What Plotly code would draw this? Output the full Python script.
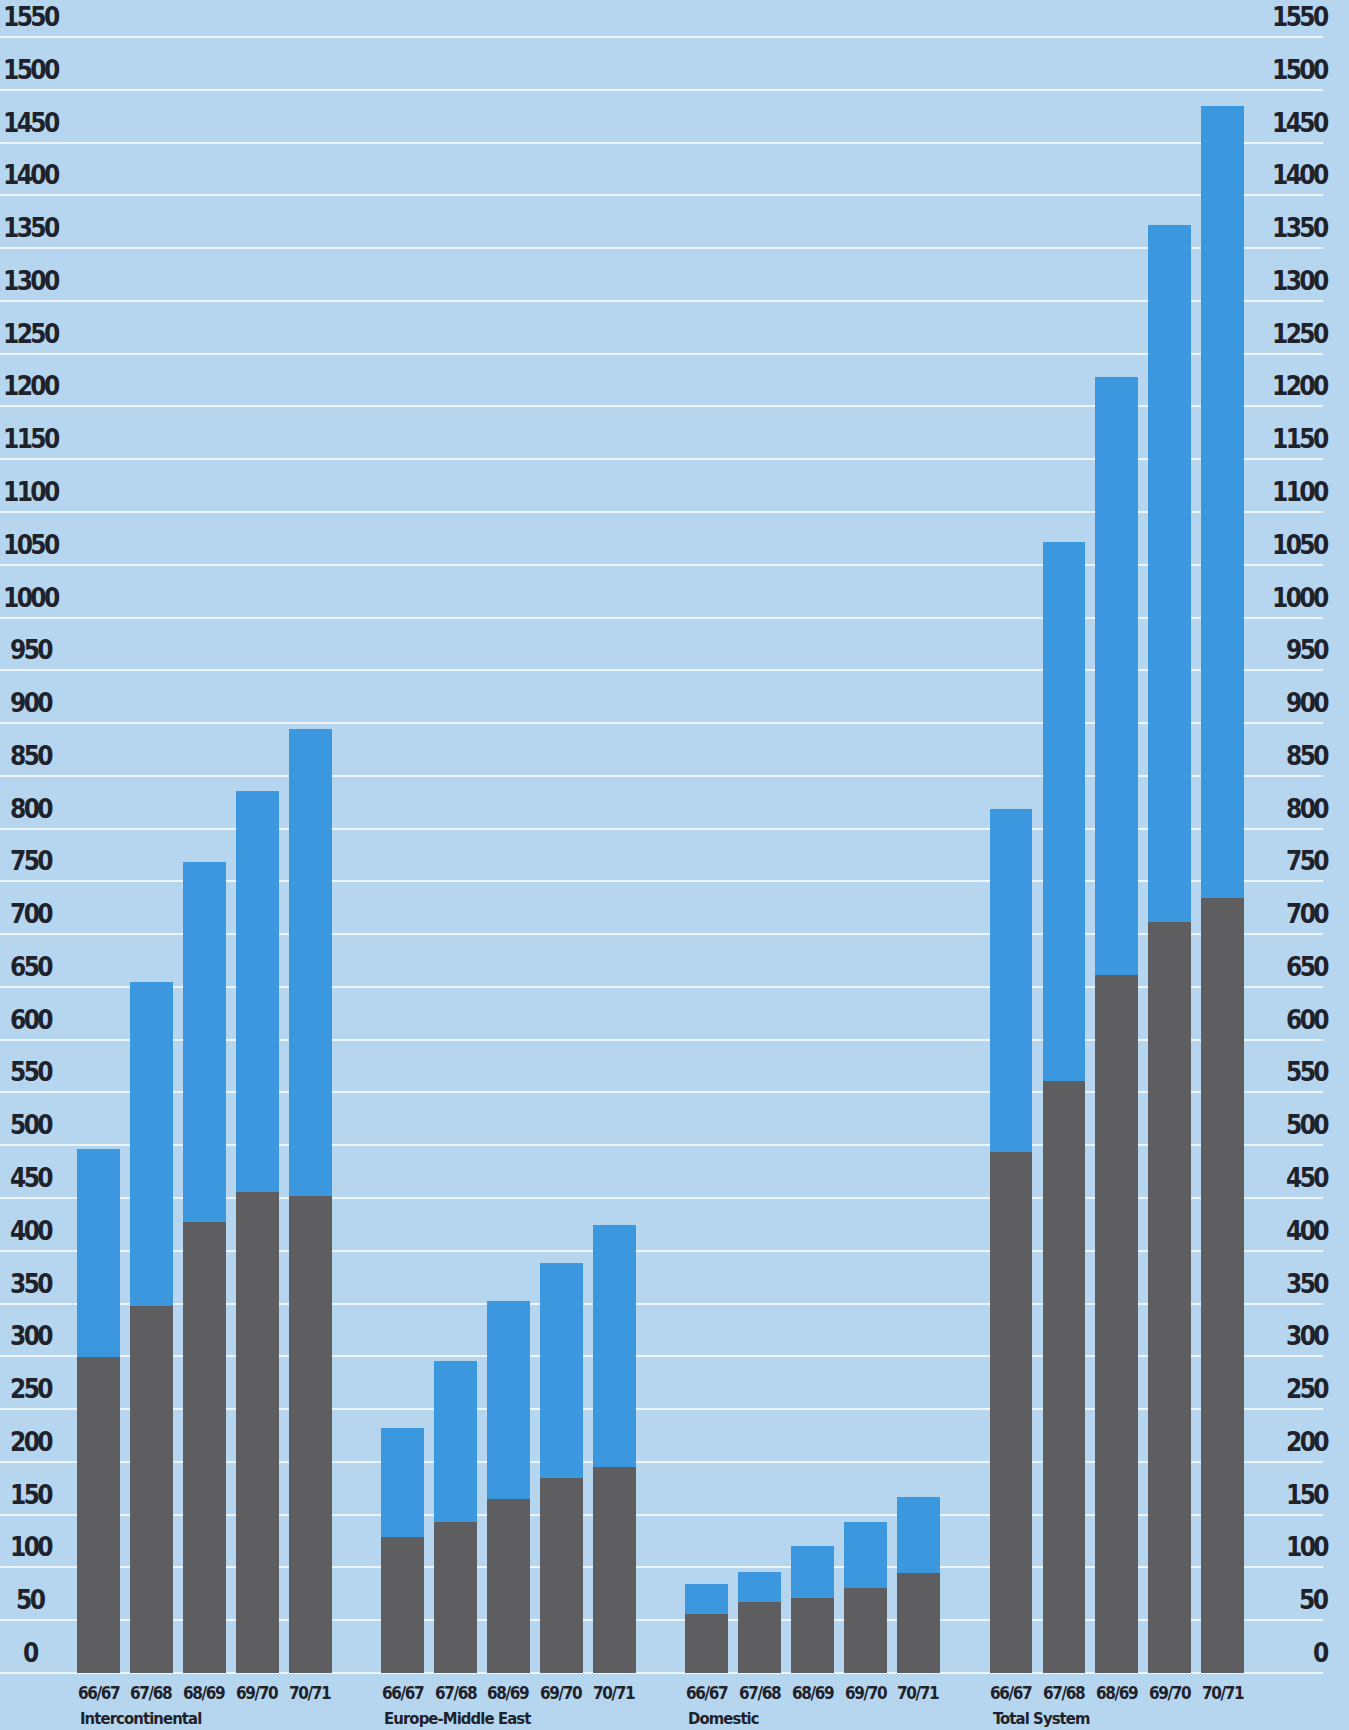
import plotly.graph_objects as go

# ---- data ----
seasons = ["66/67", "67/68", "68/69", "69/70", "70/71"]
group_names = ["Intercontinental", "Europe-Middle East", "Domestic", "Total System"]

intercontinental_lower = [299, 348, 427, 456, 452]
intercontinental_total = [496, 655, 768, 836, 894]

europe_me_lower = [129, 143, 165, 185, 195]
europe_me_total = [232, 296, 352, 388, 424]

domestic_lower = [56, 67, 71, 81, 95]
domestic_total = [84, 96, 120, 143, 167]

total_system_lower = [494, 561, 661, 712, 734]
total_system_total = [819, 1072, 1228, 1372, 1485]

y_tick_values = list(range(0, 1551, 50))
y_tick_labels = [str(v) for v in y_tick_values]

lowers = [intercontinental_lower, europe_me_lower, domestic_lower, total_system_lower]
totals = [intercontinental_total, europe_me_total, domestic_total, total_system_total]

# ---- style ----
BG = "#b5d6ee"
BLUE = "#3c98de"
GRAY = "#5e5e61"
GRID = "#eef5fa"
TEXT = "#1f222b"
FONT = "Liberation Sans Narrow, DejaVu Sans Condensed, Roboto Condensed, Arial Narrow, sans-serif"

W, H = 1349, 1730
PLOT_RIGHT = 1323
X_UNIT = 52.9          # px per bar slot
X0_PX = 98.5           # px of first bar centre
Y0_PX = 1673           # px of zero line
Y_K = (1673 - 37) / 1550.0
GROUP_STEP = 5.75
BAR_W = 0.81


def tight(text, spacing):
    return f'<span style="letter-spacing:{spacing}px">{text}</span>'


xs, lo, hi, ticktext = [], [], [], []
for g in range(len(group_names)):
    for i, s in enumerate(seasons):
        xs.append(g * GROUP_STEP + i)
        lo.append(lowers[g][i])
        hi.append(totals[g][i] - lowers[g][i])
        ticktext.append(s)

fig = go.Figure()
fig.add_trace(go.Bar(x=xs, y=lo, width=BAR_W, marker=dict(color=GRAY, line=dict(width=0)),
                     hoverinfo="skip"))
fig.add_trace(go.Bar(x=xs, y=hi, width=BAR_W, marker=dict(color=BLUE, line=dict(width=0)),
                     hoverinfo="skip"))

annotations = []
lab_font = dict(family=FONT, size=26, color=TEXT, weight="bold")
# left / right value labels
for v, t in zip(y_tick_values, y_tick_labels):
    annotations.append(dict(x=31 / PLOT_RIGHT, xref="paper", y=v, yref="y", text=tight(t, -2.6),
                            xanchor="center", yanchor="middle", yshift=20, showarrow=False,
                            font=lab_font))
    annotations.append(dict(x=1331 / PLOT_RIGHT, xref="paper", y=v, yref="y", text=tight(t, -2.6),
                            xanchor="right", yanchor="middle", yshift=20, showarrow=False,
                            font=lab_font))
# season labels
for x, t in zip(xs, ticktext):
    annotations.append(dict(x=x, xref="x", y=0, yref="y", text=tight(t, -1.4), xanchor="center",
                            yanchor="middle", yshift=-20, showarrow=False,
                            font=dict(family=FONT, size=17, color=TEXT, weight="bold")))
# group labels
for g, name in enumerate(group_names):
    annotations.append(dict(x=g * GROUP_STEP - BAR_W / 2, xref="x", y=0, yref="y",
                            text=tight(name, -0.9), xanchor="left", yanchor="middle",
                            yshift=-45, xshift=1, showarrow=False,
                            font=dict(family=FONT, size=16.5, color=TEXT, weight="bold")))

fig.update_layout(
    width=W, height=H,
    margin=dict(l=0, r=W - PLOT_RIGHT, t=0, b=0, pad=0),
    paper_bgcolor=BG, plot_bgcolor=BG,
    barmode="stack", showlegend=False,
    xaxis=dict(range=[-X0_PX / X_UNIT, (PLOT_RIGHT - X0_PX) / X_UNIT], showgrid=False,
               zeroline=False, showticklabels=False, ticks="", fixedrange=True),
    yaxis=dict(range=[-(H - Y0_PX) / Y_K, Y0_PX / Y_K], tickvals=y_tick_values,
               showticklabels=False, showgrid=True, gridcolor=GRID, gridwidth=2,
               zeroline=False, ticks="", fixedrange=True),
    annotations=annotations,
)

fig.write_html("out.html")
